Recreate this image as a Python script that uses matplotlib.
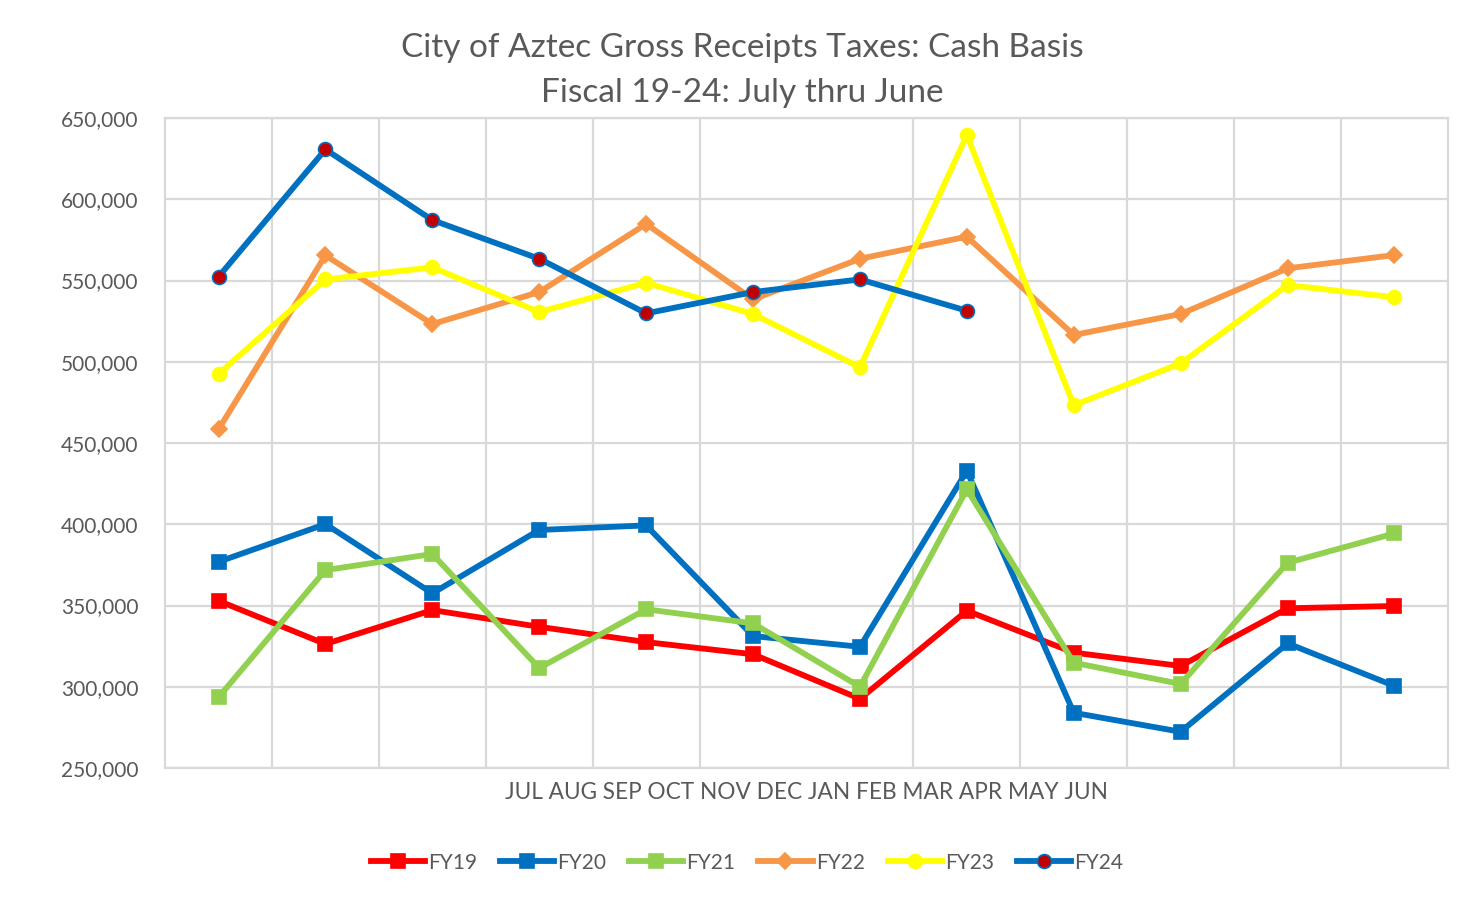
import numpy as np
import matplotlib.pyplot as plt

plt.rcParams['font.family'] = ['Lato', 'DejaVu Sans']

##################
## Data
##################
months = ['JUL', 'AUG', 'SEP', 'OCT', 'NOV', 'DEC', 'JAN', 'FEB', 'MAR', 'APR', 'MAY', 'JUN']

fy19 = [352900, 326300, 347200, 336900, 327500, 320000, 292600, 346800, 321000, 312800, 348300, 349700]
fy20 = [376900, 400100, 357500, 396500, 399300, 331200, 324600, 432900, 284000, 272300, 326700, 300500]
fy21 = [293500, 371800, 381700, 311500, 347700, 339000, 300000, 421500, 314800, 301700, 376300, 394400]
fy22 = [458400, 565500, 523200, 542900, 584800, 538400, 563400, 577000, 516500, 529400, 557500, 565700]
fy23 = [492500, 550700, 558100, 530600, 548600, 529400, 496600, 639400, 473200, 499000, 547200, 539700]
fy24 = [552300, 630700, 587200, 563400, 529800, 542900, 550700, 531400]

series = [
    ('FY19', fy19, '#FF0000', 's', '#FF0000', '#FF0000'),
    ('FY20', fy20, '#0070C0', 's', '#0070C0', '#0070C0'),
    ('FY21', fy21, '#92D050', 's', '#92D050', '#92D050'),
    ('FY22', fy22, '#F79646', 'D', '#F79646', '#F79646'),
    ('FY23', fy23, '#FFFF00', 'o', '#FFFF00', '#FFFF00'),
    ('FY24', fy24, '#0070C0', 'o', '#C00000', '#0070C0'),
]

##################
## Plot
##################
fig = plt.figure(figsize=(14.79, 8.99), dpi=100)
ax = fig.add_axes([0.1116, 0.1457, 0.8674, 0.723])

for name, vals, col, mk, mfc, mec in series:
    x = np.arange(len(vals))
    ms = 8 if mk == 'D' else 10
    ax.plot(x, vals, color=col, linewidth=4.2, marker=mk, markersize=ms,
            markerfacecolor=mfc, markeredgecolor=mec, markeredgewidth=1.2,
            label=name, zorder=3)

ax.set_xlim(-0.5, len(months) - 0.5)
ax.set_ylim(250000, 650000)
ax.set_yticks(np.arange(250000, 650001, 50000))
ax.set_yticklabels(['{:,}'.format(v) for v in range(250000, 650001, 50000)],
                   fontsize=15, color='#595959')

# one category label spanning the axis, gridlines between categories
ax.set_xticks([(len(months) - 1) / 2])
ax.set_xticklabels([' '.join(months)], fontsize=16.3, color='#595959')
ax.set_xticks(np.arange(0.5, len(months) - 0.5, 1), minor=True)
ax.tick_params(axis='both', which='both', length=0)
ax.tick_params(axis='x', pad=10)
ax.tick_params(axis='y', pad=19)
ax.grid(True, axis='y', which='major', color='#D9D9D9', linewidth=1.6)
ax.grid(True, axis='x', which='minor', color='#D9D9D9', linewidth=1.6)
ax.set_axisbelow(True)
for s in ax.spines.values():
    s.set_color('#D9D9D9')
    s.set_linewidth(1.6)

fig.text(0.502, 0.947, 'City of Aztec Gross Receipts Taxes: Cash Basis',
         ha='center', va='center', fontsize=24, color='#595959')
fig.text(0.502, 0.897, 'Fiscal 19-24: July thru June',
         ha='center', va='center', fontsize=24, color='#595959')

leg = fig.legend(loc='center', bbox_to_anchor=(0.505, 0.0405), ncol=6, frameon=False,
                 fontsize=15, handlelength=2.6, columnspacing=1.1, handletextpad=0.15)
for t in leg.get_texts():
    t.set_color('#595959')

fig.savefig('out.png', dpi=100, facecolor='white')
